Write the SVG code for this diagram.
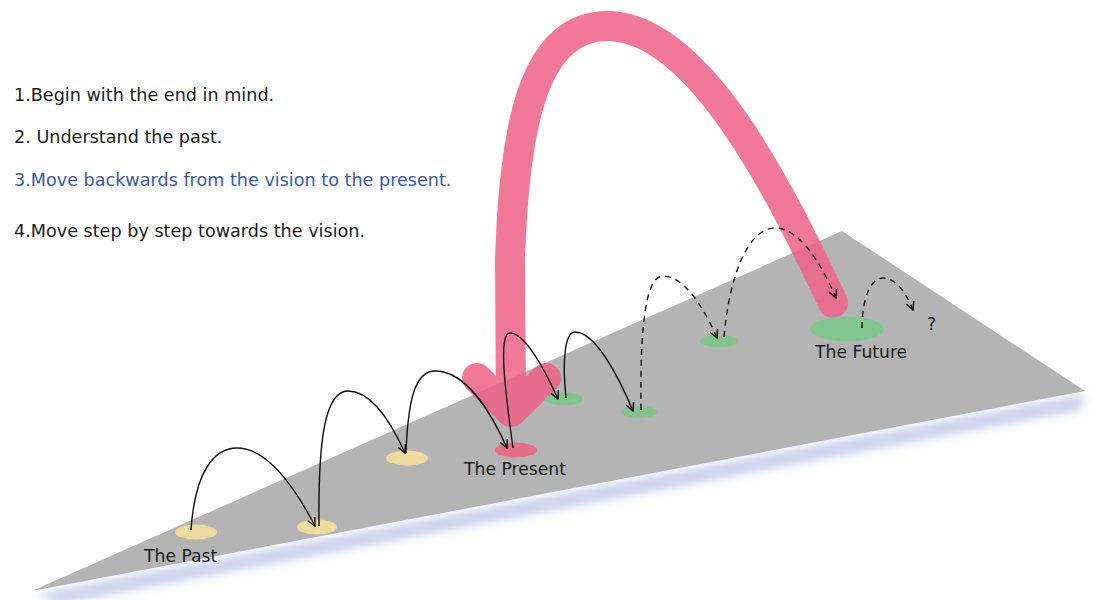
<svg xmlns="http://www.w3.org/2000/svg" width="1094" height="600" viewBox="0 0 1094 600">
<defs>
<style>
.step{font-family:"DejaVu Sans","Verdana",sans-serif;font-size:17.6px;fill:#1a1a1a}
.lbl{font-family:"DejaVu Sans","Verdana",sans-serif;font-size:17.2px;fill:#1a1a1a}
.arc{fill:none;stroke:#111;stroke-width:1.4;marker-end:url(#vh)}
.dash{stroke-dasharray:6 5}
.past{fill:#eedb9e}
.green{fill:#82c58f}
.pink{fill:none;stroke:#f06288;stroke-width:30;stroke-linecap:round;stroke-linejoin:round}
</style>
<marker id="vh" viewBox="0 0 10 10" refX="9" refY="5" markerWidth="10" markerHeight="10" markerUnits="userSpaceOnUse" orient="auto">
<path d="M1,1 L9,5 L1,9" fill="none" stroke="#111" stroke-width="1.5"/>
</marker>
<filter id="blur" x="-10%" y="-50%" width="120%" height="200%">
<feGaussianBlur stdDeviation="5"/>
</filter>
</defs>
<rect width="1094" height="600" fill="#ffffff"/>
<g id="plane">
<polygon points="36,594 1085,394 1080,410 60,604" fill="#c9d1ec" filter="url(#blur)"/>
<polygon points="32,591 842,231 1085,391" fill="#b4b4b4"/>
</g>
<g id="steps-text">
<text class="step" x="14" y="101">1.Begin with the end in mind.</text>
<text class="step" x="14" y="143">2. Understand the past.</text>
<text class="step" x="14" y="186" style="fill:#3b58a6">3.Move backwards from the vision to the present.</text>
<text class="step" x="14" y="237">4.Move step by step towards the vision.</text>
</g>
<g id="vision-arrow" opacity="0.86">
<path class="pink" d="M833 303 C780 190,700 30,610 26 C532 24,514 130,510 260 L511 408"/>
<polyline class="pink" points="477,378 511,412 546,378"/>
</g>
<g id="node-past1"><ellipse class="past" cx="196" cy="532" rx="21" ry="7.5"/><text class="lbl" x="144" y="562">The Past</text></g>
<g id="node-past2"><ellipse class="past" cx="317" cy="527" rx="20" ry="7.5"/></g>
<g id="node-past3"><ellipse class="past" cx="407" cy="458" rx="21" ry="7.5"/></g>
<g id="node-present"><ellipse cx="516" cy="450" rx="21" ry="7.5" fill="#e66f88"/><text class="lbl" x="464" y="475">The Present</text></g>
<g id="node-green1"><ellipse class="green" cx="564" cy="399" rx="19" ry="6.5"/></g>
<g id="node-green2"><ellipse class="green" cx="639" cy="412" rx="18" ry="6"/></g>
<g id="node-green3"><ellipse class="green" cx="719" cy="341" rx="19" ry="6.5"/></g>
<g id="node-future"><ellipse class="green" cx="847" cy="329" rx="37" ry="12.5"/><text class="lbl" x="815" y="358">The Future</text></g>
<g id="node-unknown"><text class="lbl" x="927" y="330">?</text></g>
<g id="connectors">
<path class="arc" d="M191 530 C195 470,215 448,237 448 C265 448,292 482,315 526"/>
<path class="arc" d="M319 526 C318 440,325 391,348 391 C370 391,390 420,405 453"/>
<path class="arc" d="M406 453 C408 400,415 371,435 371 C465 371,490 410,507 448"/>
<path class="arc" d="M513 448 C505 390,498 333,510 333 C525 333,545 370,558 399"/>
<path class="arc" d="M566 398 C562 360,565 332,575 332 C595 332,618 375,633 411"/>
<path class="arc dash" d="M641 410 C640 330,645 276,663 276 C685 276,705 310,717 338"/>
<path class="arc dash" d="M724 337 C730 270,750 228,775 228 C800 228,822 265,836 298"/>
<path class="arc dash" d="M862 328 C862 300,870 278,883 278 C895 278,906 292,913 310"/>
</g>
</svg>
